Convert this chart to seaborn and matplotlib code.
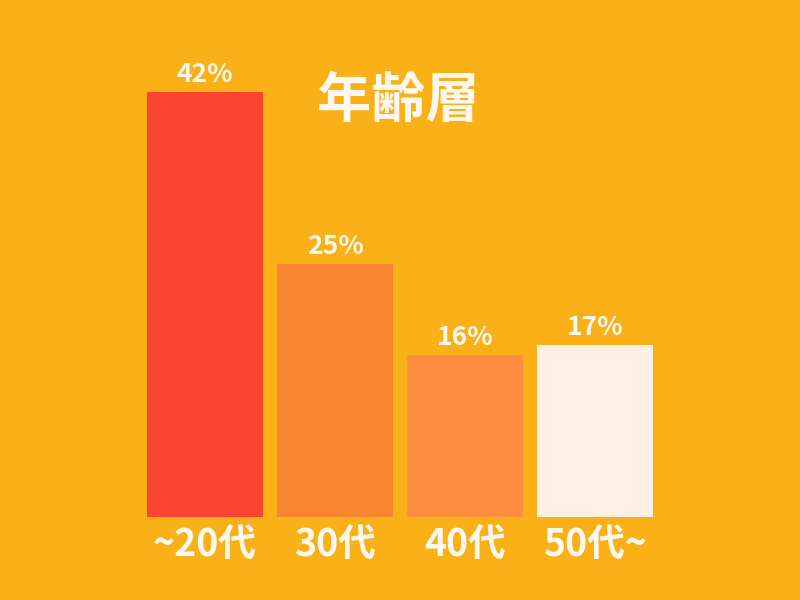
import matplotlib
matplotlib.use("Agg")
import matplotlib.pyplot as plt
import seaborn as sns
import pandas as pd

# data
age_groups = ["~20代", "30代", "40代", "50代~"]
shares = [42, 25, 16, 17]
bar_colors = ["#FB4432", "#F98431", "#FE8D3F", "#FFEFE5"]

bg = "#FAB117"
txt = "#FFF8F0"

sns.set_theme(style="white")
plt.rcParams['font.family'] = ['Noto Sans CJK JP', 'DejaVu Sans']

df = pd.DataFrame({"age": age_groups, "share": shares})

fig = plt.figure(figsize=(8, 6), dpi=100, facecolor=bg)
ax = fig.add_axes([140 / 800, 1 - 517 / 600, 520 / 800, 506 / 600])
ax.set_facecolor(bg)

sns.barplot(data=df, x="age", y="share", hue="age", palette=bar_colors,
            width=116 / 130, legend=False, ax=ax, saturation=1, linewidth=0)

ax.set_xlim(-0.5, 3.5)
ax.set_ylim(0, 50)

for i, v in enumerate(shares):
    ax.annotate(f"{v}%", (i, v), xytext=(0, 3), textcoords="offset points",
                ha="center", va="bottom", fontsize=19, fontweight="bold", color=txt)

ax.set_xticks(range(len(age_groups)))
ax.set_xticklabels(age_groups, fontsize=27, fontweight="bold", color=txt)
ax.tick_params(axis="x", length=0, pad=6)
ax.set_yticks([])
ax.set_xlabel("")
ax.set_ylabel("")
sns.despine(ax=ax, left=True, bottom=True)

fig.text(398 / 800, 1 - 101 / 600, "年齢層", ha="center", va="center",
         fontsize=39, fontweight="bold", color=txt)

fig.savefig("out.png", dpi=100, facecolor=bg)
